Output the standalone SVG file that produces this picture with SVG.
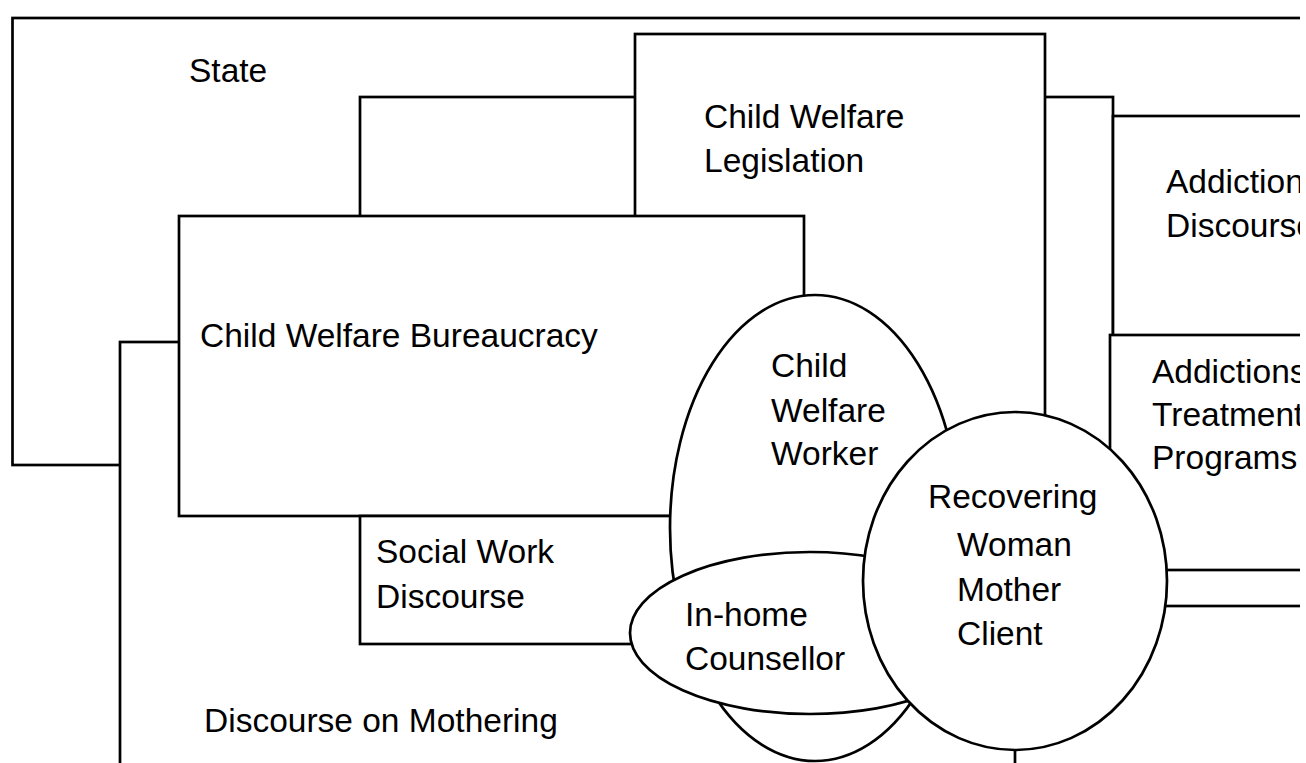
<svg xmlns="http://www.w3.org/2000/svg" width="1306" height="763" viewBox="0 0 1306 763">
<style>
.b{fill:#fff;stroke:#000;stroke-width:2.7}
.t{font-family:"Liberation Sans",Arial,Helvetica,sans-serif;font-size:33.5px;fill:#000}
</style>
<defs>
<clipPath id="page"><rect x="0" y="0" width="1300" height="763"/></clipPath>
</defs>
<rect x="0" y="0" width="1306" height="763" fill="#fff"/>
<g clip-path="url(#page)">
<g id="state">
<rect class="b" x="12.5" y="18" width="1400" height="447"/>
<text class="t" x="189" y="82">State</text>
</g>
<g id="mothering">
<rect class="b" x="120" y="342" width="895" height="500"/>
<text class="t" x="204" y="732">Discourse on Mothering</text>
</g>
<g id="middle-box">
<rect class="b" x="1000" y="97" width="113" height="460"/>
</g>
<g id="upper-box">
<rect class="b" x="360" y="97" width="400" height="200"/>
</g>
<g id="legislation">
<rect class="b" x="635" y="34" width="410" height="406"/>
<text class="t" x="704" y="128">Child Welfare</text>
<text class="t" x="704" y="172">Legislation</text>
</g>
<g id="addiction-discourse">
<rect class="b" x="1113" y="116" width="300" height="490"/>
<text class="t" x="1166" y="193">Addictions</text>
<text class="t" x="1166" y="237">Discourse</text>
</g>
<g id="treatment">
<rect class="b" x="1110" y="335" width="300" height="235"/>
<text class="t" x="1152" y="383">Addictions</text>
<text class="t" x="1152" y="426">Treatment</text>
<text class="t" x="1152" y="469">Programs</text>
</g>
<g id="bureaucracy">
<rect class="b" x="179" y="216" width="625" height="300"/>
<text class="t" x="200" y="347">Child Welfare Bureaucracy</text>
</g>
<g id="social-work">
<rect class="b" x="360" y="516" width="340" height="128"/>
<text class="t" x="376" y="563">Social Work</text>
<text class="t" x="376" y="608">Discourse</text>
</g>
<g id="worker">
<ellipse class="b" cx="815" cy="528" rx="145" ry="233"/>
<text class="t" x="771" y="377">Child</text>
<text class="t" x="771" y="422">Welfare</text>
<text class="t" x="771" y="465">Worker</text>
</g>
<g id="counsellor">
<ellipse class="b" cx="810" cy="633" rx="180" ry="81"/>
<text class="t" x="685" y="626">In-home</text>
<text class="t" x="685" y="670">Counsellor</text>
</g>
<g id="client">
<ellipse class="b" cx="1015" cy="581" rx="152" ry="169"/>
<text class="t" x="928" y="508">Recovering</text>
<text class="t" x="957" y="556">Woman</text>
<text class="t" x="957" y="601">Mother</text>
<text class="t" x="957" y="645">Client</text>
</g>
</g>
</svg>
